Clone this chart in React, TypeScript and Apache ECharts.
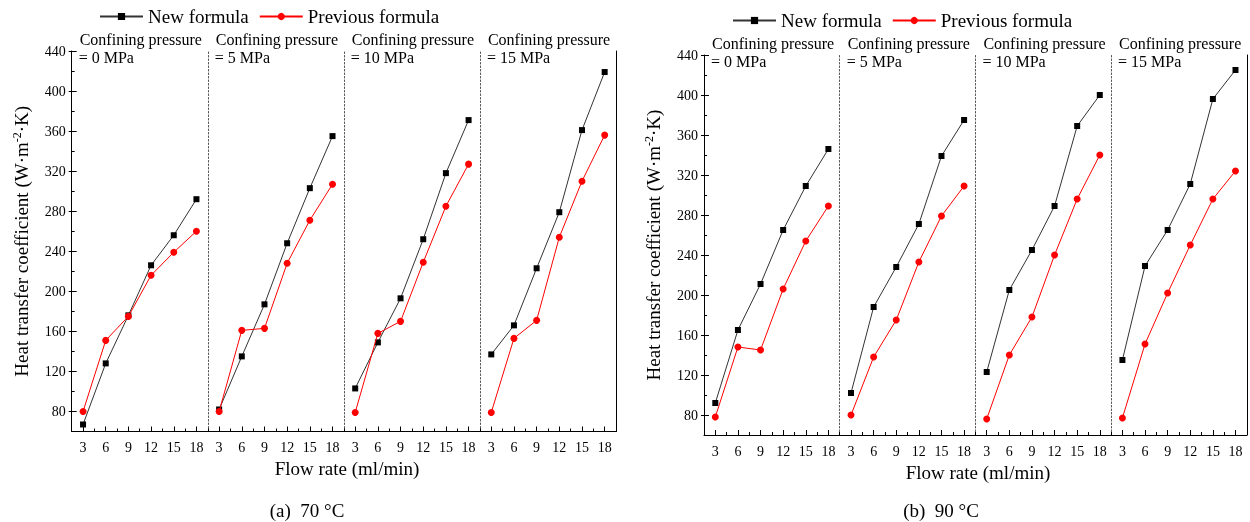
import React, { useEffect, useRef, useState } from "react";
import * as echarts from "echarts";

const flowRates = [3, 6, 9, 12, 15, 18];
const pressures = ["0", "5", "10", "15"];
const xMajor = [3, 6, 9, 12, 15, 18];
const xMinor = [1.5, 4.5, 7.5, 10.5, 13.5, 16.5, 19.5];
const yMajor = [80, 120, 160, 200, 240, 280, 320, 360, 400, 440];
const yMinor = [60, 100, 140, 180, 220, 260, 300, 340, 380, 420];

// 70 °C
const newFormula70 = [
  [67, 128, 176, 226, 256, 292],
  [82, 135, 187, 248, 303, 355],
  [103, 149, 193, 252, 318, 371],
  [137, 166, 223, 279, 361, 419],
];
const prevFormula70 = [
  [80, 151, 175, 216, 239, 260],
  [80, 161, 163, 228, 271, 307],
  [79, 158, 170, 229, 285, 327],
  [79, 153, 171, 254, 310, 356],
];
// 90 °C
const newFormula90 = [
  [92, 165, 211, 265, 309, 346],
  [102, 188, 228, 271, 339, 375],
  [123, 205, 245, 289, 369, 400],
  [135, 229, 265, 311, 396, 425],
];
const prevFormula90 = [
  [78, 148, 145, 206, 254, 289],
  [80, 138, 175, 233, 279, 309],
  [76, 140, 178, 240, 296, 340],
  [77, 151, 202, 250, 296, 324],
];

const FF = "Liberation Serif";

const layouts = [
  { newVals: newFormula70, prevVals: prevFormula70, left: 71.7, width: 544.3, top: 51, height: 380.5, legendLeft: 94, legendTop: 2, caption: "(a)  70 °C", captionX: 307, xTitleX: 347, xTitleY: 468 },
  { newVals: newFormula90, prevVals: prevFormula90, left: 704, width: 542.8, top: 55, height: 380, legendLeft: 727, legendTop: 6, caption: "(b)  90 °C", captionX: 941, xTitleX: 978, xTitleY: 472 },
];

export default function App() {
  const ref = useRef<HTMLDivElement>(null);
  const [tick, setTick] = useState("");
  useEffect(() => {
    if (!ref.current) return;
    const chart = echarts.init(ref.current, undefined, { renderer: "svg" });
    const grid: any[] = [];
    const xAxis: any[] = [];
    const yAxis: any[] = [];
    const series: any[] = [];
    const graphic: any[] = [];
    const legend: any[] = [];

    layouts.forEach((L) => {
      const pw = L.width / 4;
      legend.push({
        left: L.legendLeft, top: L.legendTop, itemWidth: 43, itemHeight: 9, itemGap: 10,
        textStyle: { fontFamily: FF, fontSize: 19, color: "#000" },
        data: ["New formula", "Previous formula"],
      });
      for (let p = 0; p < 4; p++) {
        const g = grid.length;
        const gl = L.left + p * pw;
        grid.push({ left: gl, top: L.top, width: pw, height: L.height });
        const xi = xAxis.length;
        xAxis.push({
          gridIndex: g, type: "value", min: 1.5, max: 19.5, position: "bottom",
          axisLine: { show: true, onZero: false, lineStyle: { color: "#000", width: 1 } },
          axisTick: { show: true, inside: true, length: 5, customValues: xMajor, lineStyle: { color: "#000" } },
          axisLabel: { show: true, customValues: xMajor, fontFamily: FF, fontSize: 14, color: "#000", margin: 9 },
          splitLine: { show: false },
        });
        xAxis.push({
          gridIndex: g, type: "value", min: 1.5, max: 19.5, position: "bottom",
          axisLine: { show: false, onZero: false },
          axisTick: { show: true, inside: true, length: 3, customValues: xMinor, lineStyle: { color: "#000" } },
          axisLabel: { show: false },
          splitLine: { show: false },
        });
        const yi = yAxis.length;
        if (p === 0) {
          yAxis.push({
            gridIndex: g, type: "value", min: 60, max: 440, position: "left",
            axisLine: { show: true, onZero: false, lineStyle: { color: "#000", width: 1 } },
            axisTick: { show: true, inside: false, length: 3, customValues: yMajor, lineStyle: { color: "#000" } },
            axisLabel: { show: true, customValues: yMajor, fontFamily: FF, fontSize: 14, color: "#000", margin: 6 },
            splitLine: { show: false },
            name: "Heat transfer coefficient (W·m{sup|-2}·K)",
            nameLocation: "middle", nameRotate: 90, nameGap: 40,
            nameTextStyle: { fontFamily: FF, fontSize: 19, color: "#000", rich: { sup: { fontFamily: FF, fontSize: 12, color: "#000", padding: [0, 0, 9, 0] } } },
          });
          yAxis.push({
            gridIndex: g, type: "value", min: 60, max: 440, position: "left",
            axisLine: { show: false, onZero: false },
            axisTick: { show: true, inside: true, length: 5, customValues: yMajor, lineStyle: { color: "#000" } },
            axisLabel: { show: false }, splitLine: { show: false },
          });
          yAxis.push({
            gridIndex: g, type: "value", min: 60, max: 440, position: "left",
            axisLine: { show: false, onZero: false },
            axisTick: { show: true, inside: true, length: 3, customValues: yMinor, lineStyle: { color: "#000" } },
            axisLabel: { show: false }, splitLine: { show: false },
          });
        } else {
          yAxis.push({
            gridIndex: g, type: "value", min: 60, max: 440, position: "left",
            axisLine: { show: true, onZero: false, lineStyle: { color: "#555", width: 1, type: [1.5, 2] } },
            axisTick: { show: false }, axisLabel: { show: false }, splitLine: { show: false },
          });
        }
        if (p === 3) {
          yAxis.push({
            gridIndex: g, type: "value", min: 60, max: 440, position: "right",
            axisLine: { show: true, onZero: false, lineStyle: { color: "#000", width: 1 } },
            axisTick: { show: false }, axisLabel: { show: false }, splitLine: { show: false },
          });
        }
        series.push({
          type: "line", name: "New formula", xAxisIndex: xi, yAxisIndex: yi,
          data: flowRates.map((x, i) => [x, L.newVals[p][i]]),
          symbol: "rect", symbolSize: 6, lineStyle: { color: "#333", width: 1 }, itemStyle: { color: "#000" }, z: 3,
        });
        series.push({
          type: "line", name: "Previous formula", xAxisIndex: xi, yAxisIndex: yi,
          data: flowRates.map((x, i) => [x, L.prevVals[p][i]]),
          symbol: "circle", symbolSize: 7, lineStyle: { color: "#ff0000", width: 1 }, itemStyle: { color: "#ff0000" }, z: 4,
        });
        graphic.push({ type: "text", left: gl + 8, top: L.top - 20, style: { text: "Confining pressure", fontFamily: FF, fontSize: 16, fill: "#000" } });
        graphic.push({ type: "text", left: gl + 7, top: L.top - 2, style: { text: `= ${pressures[p]} MPa`, fontFamily: FF, fontSize: 16, fill: "#000" } });
      }
      graphic.push({ type: "text", x: L.xTitleX, y: L.xTitleY, style: { text: "Flow rate (ml/min)", fontFamily: FF, fontSize: 19, fill: "#000", align: "center", verticalAlign: "middle" } });
      graphic.push({ type: "text", x: L.captionX, y: 510, style: { text: L.caption, fontFamily: FF, fontSize: 19, fill: "#000", align: "center", verticalAlign: "middle" } });
    });

    const option = { animation: false, legend, grid, xAxis, yAxis, series, graphic };
    chart.setOption(option);
    setTick(" ");
    let alive = true;
    if ((document as any).fonts && (document as any).fonts.ready) {
      (document as any).fonts.ready.then(() => {
        if (alive) chart.setOption(option, true);
      });
    }
    return () => {
      alive = false;
      chart.dispose();
    };
  }, []);
  return (
    <div>
      <div ref={ref} style={{ position: "fixed", left: 0, top: 0, width: 1250, height: 522 }} />
      <pre style={{ position: "fixed", left: 0, top: 0, margin: 0, fontSize: 1, color: "transparent", pointerEvents: "none" }}>{tick}</pre>
    </div>
  );
}
